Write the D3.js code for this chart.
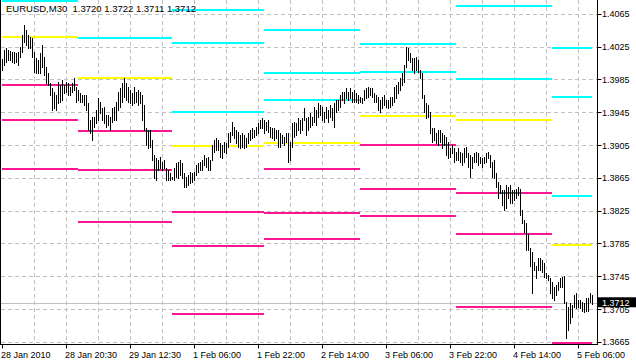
<!DOCTYPE html>
<html>
<head>
<meta charset="utf-8">
<script src="https://cdn.jsdelivr.net/npm/d3@7"></script>
<style>
  html, body { margin: 0; padding: 0; background: #fff; }
  svg { display: block; }
  text { font-family: "Liberation Sans", Arial, sans-serif; }
</style>
</head>
<body>
<div id="chart"></div>
<script>
// EURUSD M30 bars, high / low per bar
const highs = [
  1.4010,1.4021,1.4023,1.4021,1.4020,1.4019,1.4019,1.4017,1.4019,1.4025,
  1.4039,1.4052,1.4045,1.4039,1.4037,1.4036,1.4019,1.4011,1.4009,1.4017,
  1.4027,1.4012,1.4000,1.3993,1.3981,1.3975,1.3970,1.3966,1.3982,1.3978,
  1.3984,1.3978,1.3982,1.3981,1.3976,1.3981,1.3987,1.3976,1.3972,1.3969,
  1.3966,1.3966,1.3966,1.3956,1.3936,1.3939,1.3939,1.3948,1.3962,1.3958,
  1.3950,1.3951,1.3942,1.3942,1.3939,1.3950,1.3951,1.3958,1.3970,1.3975,
  1.3981,1.3987,1.3981,1.3976,1.3972,1.3969,1.3976,1.3970,1.3972,1.3970,
  1.3966,1.3954,1.3926,1.3923,1.3923,1.3911,1.3893,1.3889,1.3887,1.3890,
  1.3884,1.3887,1.3877,1.3874,1.3871,1.3866,1.3877,1.3883,1.3884,1.3887,
  1.3883,1.3871,1.3866,1.3868,1.3872,1.3871,1.3872,1.3881,1.3883,1.3884,
  1.3887,1.3893,1.3889,1.3890,1.3887,1.3905,1.3911,1.3914,1.3911,1.3907,
  1.3905,1.3909,1.3907,1.3920,1.3921,1.3933,1.3927,1.3923,1.3921,1.3917,
  1.3920,1.3917,1.3914,1.3920,1.3923,1.3926,1.3923,1.3927,1.3932,1.3936,
  1.3938,1.3936,1.3933,1.3936,1.3927,1.3926,1.3926,1.3923,1.3923,1.3920,
  1.3917,1.3915,1.3920,1.3920,1.3909,1.3932,1.3933,1.3932,1.3938,1.3936,
  1.3938,1.3950,1.3938,1.3939,1.3944,1.3939,1.3951,1.3948,1.3956,1.3954,
  1.3951,1.3945,1.3951,1.3948,1.3954,1.3950,1.3956,1.3960,1.3960,1.3966,
  1.3970,1.3970,1.3975,1.3970,1.3975,1.3970,1.3972,1.3969,1.3966,1.3964,
  1.3962,1.3972,1.3975,1.3976,1.3975,1.3975,1.3969,1.3966,1.3964,1.3960,
  1.3964,1.3966,1.3960,1.3960,1.3964,1.3964,1.3976,1.3978,1.3982,1.3987,
  1.3993,1.4003,1.4025,1.4023,1.4017,1.4011,1.4011,1.4012,1.4009,1.3997,
  1.3993,1.3966,1.3956,1.3954,1.3945,1.3926,1.3926,1.3920,1.3923,1.3923,
  1.3920,1.3917,1.3915,1.3909,1.3901,1.3905,1.3901,1.3896,1.3901,1.3896,
  1.3895,1.3901,1.3903,1.3895,1.3893,1.3890,1.3895,1.3896,1.3895,1.3890,
  1.3889,1.3890,1.3895,1.3896,1.3893,1.3884,1.3887,1.3871,1.3860,1.3856,
  1.3850,1.3850,1.3856,1.3854,1.3856,1.3850,1.3850,1.3852,1.3854,1.3852,
  1.3826,1.3813,1.3810,1.3797,1.3779,1.3774,1.3762,1.3758,1.3767,1.3767,
  1.3765,1.3761,1.3749,1.3746,1.3743,1.3738,1.3732,1.3734,1.3738,1.3743,
  1.3744,1.3745,1.3713,1.3707,1.3712,1.3710,1.3722,1.3724,1.3716,1.3716,
  1.3713,1.3712,1.3719,1.3718,1.3725,1.3722
];
const lows = [
  1.3997,1.4003,1.4006,1.4009,1.4009,1.4006,1.4005,1.4006,1.4003,1.4012,
  1.4019,1.4031,1.4027,1.4023,1.4023,1.4012,1.3994,1.3993,1.3993,1.3993,
  1.4000,1.3990,1.3981,1.3978,1.3966,1.3948,1.3950,1.3948,1.3956,1.3958,
  1.3960,1.3969,1.3970,1.3966,1.3966,1.3970,1.3972,1.3958,1.3960,1.3958,
  1.3958,1.3954,1.3948,1.3923,1.3920,1.3911,1.3927,1.3932,1.3936,1.3944,
  1.3936,1.3932,1.3927,1.3929,1.3923,1.3933,1.3936,1.3936,1.3948,1.3951,
  1.3958,1.3964,1.3960,1.3958,1.3956,1.3954,1.3956,1.3958,1.3954,1.3956,
  1.3936,1.3923,1.3905,1.3901,1.3903,1.3887,1.3865,1.3862,1.3874,1.3877,
  1.3874,1.3877,1.3862,1.3862,1.3862,1.3863,1.3862,1.3866,1.3865,1.3868,
  1.3865,1.3854,1.3854,1.3856,1.3859,1.3860,1.3862,1.3868,1.3872,1.3874,
  1.3874,1.3881,1.3878,1.3874,1.3874,1.3887,1.3896,1.3899,1.3899,1.3890,
  1.3889,1.3896,1.3895,1.3903,1.3909,1.3917,1.3914,1.3907,1.3903,1.3901,
  1.3903,1.3901,1.3903,1.3907,1.3911,1.3914,1.3915,1.3917,1.3920,1.3926,
  1.3926,1.3920,1.3923,1.3921,1.3915,1.3914,1.3911,1.3914,1.3903,1.3903,
  1.3907,1.3905,1.3909,1.3884,1.3887,1.3903,1.3915,1.3917,1.3923,1.3920,
  1.3923,1.3936,1.3917,1.3923,1.3927,1.3929,1.3933,1.3929,1.3939,1.3942,
  1.3936,1.3933,1.3938,1.3933,1.3939,1.3936,1.3927,1.3945,1.3948,1.3951,
  1.3960,1.3956,1.3962,1.3960,1.3962,1.3958,1.3958,1.3958,1.3956,1.3958,
  1.3956,1.3960,1.3962,1.3964,1.3966,1.3964,1.3958,1.3958,1.3948,1.3945,
  1.3950,1.3954,1.3951,1.3950,1.3951,1.3954,1.3958,1.3962,1.3969,1.3972,
  1.3978,1.3982,1.4000,1.4009,1.4006,1.3997,1.3993,1.3997,1.3994,1.3987,
  1.3962,1.3945,1.3938,1.3939,1.3920,1.3909,1.3911,1.3907,1.3905,1.3909,
  1.3901,1.3905,1.3893,1.3889,1.3890,1.3895,1.3884,1.3887,1.3887,1.3884,
  1.3881,1.3884,1.3890,1.3878,1.3866,1.3877,1.3884,1.3884,1.3881,1.3883,
  1.3878,1.3883,1.3884,1.3889,1.3878,1.3866,1.3865,1.3854,1.3841,1.3846,
  1.3832,1.3826,1.3828,1.3841,1.3834,1.3834,1.3838,1.3841,1.3844,1.3820,
  1.3810,1.3799,1.3777,1.3777,1.3758,1.3725,1.3752,1.3743,1.3752,1.3752,
  1.3750,1.3744,1.3743,1.3740,1.3725,1.3718,1.3716,1.3722,1.3728,1.3732,
  1.3732,1.3712,1.3670,1.3679,1.3688,1.3695,1.3707,1.3706,1.3707,1.3706,
  1.3703,1.3701,1.3703,1.3703,1.3713,1.3711
];

// daily pivot levels, one value per day (null = off the chart)
const dayStart = [0, 38, 85, 131, 179, 227, 275];
const r3 = [null, null, 1.4070, 1.4045, null, null, 1.4023];
const r2 = [null, null, 1.4029, 1.3993, 1.4028, 1.4075, 1.3964];
const r1 = [1.4081, 1.4035, 1.3945, 1.3960, 1.3994, 1.3986, 1.3843];
const pp = [1.4037, 1.3987, 1.3904, 1.3908, 1.3940, 1.3936, 1.3783];
const s1 = [1.3978, 1.3922, 1.3823, 1.3876, 1.3905, 1.3847, 1.3664];
const s2 = [1.3936, 1.3874, 1.3782, 1.3822, 1.3852, 1.3797, null];
const s3 = [1.3876, 1.3811, 1.3699, 1.3791, 1.3818, 1.3708, null];

const priceTicks = [1.3665, 1.3705, 1.3745, 1.3785, 1.3825, 1.3865, 1.3905, 1.3945, 1.3985, 1.4025, 1.4065];
const timeTickIdx = [0, 32, 64, 96, 128, 160, 192, 224, 256, 288];
const timeLabels = ["28 Jan 2010", "28 Jan 20:30", "29 Jan 12:30", "1 Feb 06:00", "1 Feb 22:00",
                    "2 Feb 14:00", "3 Feb 06:00", "3 Feb 22:00", "4 Feb 14:00", "5 Feb 06:00"];
const lastPrice = 1.3712;
const title = "EURUSD,M30  1.3720 1.3722 1.3711 1.3712";

const width = 636, height = 363;
const axisX = 597.5, axisY = 344.5;

const svg = d3.select("#chart").append("svg")
    .attr("width", width)
    .attr("height", height);

svg.append("rect").attr("width", width).attr("height", height).attr("fill", "#fff");

const x = d3.scaleLinear()
    .domain([0, highs.length - 1])
    .range([2.5, 2.5 + 2 * (highs.length - 1)]);

const y = d3.scaleLinear()
    .domain([1.3665, 1.4065])
    .range([341.8, 13.9]);

const plot = svg.append("g");

// grid
plot.selectAll(".hgrid")
    .data(priceTicks)
    .enter().append("line")
    .attr("x1", 1).attr("x2", axisX)
    .attr("y1", d => Math.round(y(d)) + 0.5)
    .attr("y2", d => Math.round(y(d)) + 0.5)
    .attr("stroke", "#c0c0c0")
    .attr("stroke-dasharray", "4,3");

plot.selectAll(".vgrid")
    .data(d3.range(16, highs.length, 16))
    .enter().append("line")
    .attr("x1", d => x(d)).attr("x2", d => x(d))
    .attr("y1", 0).attr("y2", axisY)
    .attr("stroke", "#c0c0c0")
    .attr("stroke-dasharray", "4,3");

// current price line
plot.append("line")
    .attr("x1", 1).attr("x2", axisX)
    .attr("y1", Math.round(y(lastPrice)) + 0.5)
    .attr("y2", Math.round(y(lastPrice)) + 0.5)
    .attr("stroke", "#c0c0c0");

// pivot lines
const levels = [
    { vals: r3, color: "#00ffff" },
    { vals: r2, color: "#00ffff" },
    { vals: r1, color: "#00ffff" },
    { vals: pp, color: "#ffff00" },
    { vals: s1, color: "#ff1493" },
    { vals: s2, color: "#ff1493" },
    { vals: s3, color: "#ff1493" }
];

levels.forEach(lv => {
    lv.vals.forEach((v, di) => {
        if (v === null) return;
        const a = dayStart[di];
        const b = di + 1 < dayStart.length ? dayStart[di + 1] : highs.length - 1;
        plot.append("line")
            .attr("x1", x(a) - 0.5)
            .attr("x2", x(b) - 0.5)
            .attr("y1", Math.round(y(v)))
            .attr("y2", Math.round(y(v)))
            .attr("stroke", lv.color)
            .attr("stroke-width", 2);
    });
});

// price bars
plot.selectAll(".bar")
    .data(highs)
    .enter().append("line")
    .attr("x1", (d, i) => x(i))
    .attr("x2", (d, i) => x(i))
    .attr("y1", d => Math.round(y(d)))
    .attr("y2", (d, i) => Math.max(Math.round(y(lows[i])) + 1, Math.round(y(d)) + 2))
    .attr("stroke", "#000")
    .attr("stroke-width", 1);

// frame
svg.append("line").attr("x1", 0.5).attr("x2", 0.5).attr("y1", 0).attr("y2", axisY + 0.5)
    .attr("stroke", "#000");
svg.append("line").attr("x1", 0).attr("x2", axisX).attr("y1", axisY).attr("y2", axisY)
    .attr("stroke", "#000");
svg.append("line").attr("x1", axisX).attr("x2", axisX).attr("y1", 0).attr("y2", axisY + 0.5)
    .attr("stroke", "#000");

// right price axis
const pt = svg.append("g");
pt.selectAll("line")
    .data(priceTicks)
    .enter().append("line")
    .attr("x1", axisX).attr("x2", axisX + 4)
    .attr("y1", d => Math.round(y(d)) + 0.5)
    .attr("y2", d => Math.round(y(d)) + 0.5)
    .attr("stroke", "#000");
pt.selectAll("text")
    .data(priceTicks)
    .enter().append("text")
    .attr("x", 602)
    .attr("y", d => y(d) + 3.5)
    .attr("font-size", "9px")
    .attr("fill", "#000")
    .text(d => d.toFixed(4));

// last price marker
svg.append("rect")
    .attr("x", axisX)
    .attr("y", y(lastPrice) - 6)
    .attr("width", width - axisX)
    .attr("height", 10)
    .attr("fill", "#000");
svg.append("text")
    .attr("x", 602)
    .attr("y", y(lastPrice) + 2.5)
    .attr("font-size", "9px")
    .attr("fill", "#fff")
    .text(lastPrice.toFixed(4));

// bottom time axis
const tt = svg.append("g");
tt.selectAll("line")
    .data(timeTickIdx)
    .enter().append("line")
    .attr("x1", d => x(d)).attr("x2", d => x(d))
    .attr("y1", axisY).attr("y2", axisY + 4)
    .attr("stroke", "#000");
tt.selectAll("text")
    .data(timeTickIdx)
    .enter().append("text")
    .attr("x", d => x(d) - 1.5)
    .attr("y", 358)
    .attr("font-size", "9px")
    .attr("fill", "#000")
    .text((d, i) => timeLabels[i]);

// title
svg.append("text")
    .attr("x", 6)
    .attr("y", 11.5)
    .attr("font-size", "9.5px")
    .attr("fill", "#000")
    .style("white-space", "pre")
    .text(title);
</script>
</body>
</html>
